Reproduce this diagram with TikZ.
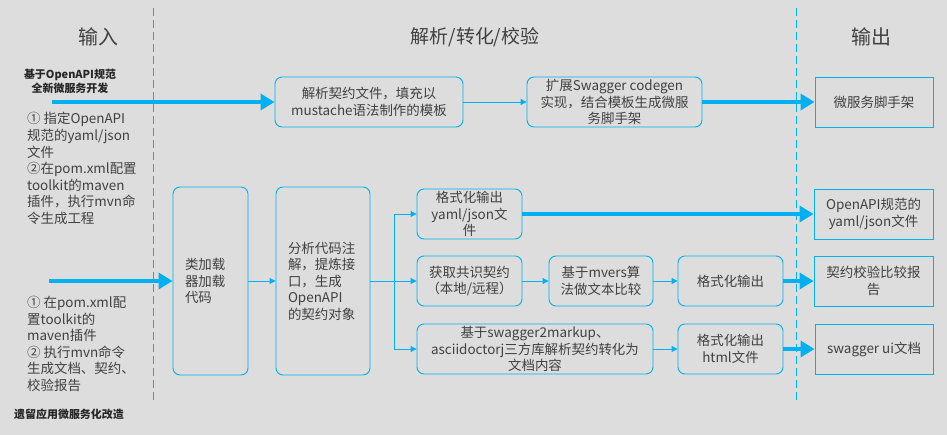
\documentclass[tikz,border=0pt]{standalone}
\usepackage{fontspec}
\setmainfont{Noto Sans CJK SC}
\usetikzlibrary{arrows.meta}
\begin{document}
\begin{tikzpicture}[x=1bp,y=-1bp,font=\fontsize{13.5}{16.6}\selectfont,
  rbox/.style={draw=hblue,rounded corners=7bp,line width=0.9bp,align=center,
    inner sep=0pt,text=htext,minimum height=50bp},
  obox/.style={draw=hblue,line width=0.9bp,align=center,inner sep=0pt,
    text=htext,minimum height=50bp},
  thin link/.style={hblue,line width=0.9bp,-{Triangle[length=6bp,width=6bp]}},
  thick link/.style={hblue,line width=4.5bp,-{Triangle[length=14bp,width=16bp]}},
  head/.style={text=htext,font=\fontsize{20}{24}\selectfont},
  tag/.style={text=black!85,align=center,font=\bfseries\fontsize{11}{14}\selectfont},
  steps/.style={anchor=west,align=left,inner sep=0pt,text=htext}]
  \definecolor{hbg}{HTML}{DDDDDD}
  \definecolor{hblue}{HTML}{00B0F0}
  \definecolor{htext}{HTML}{404040}
  \fill[hbg] (0,0) rectangle (947,435);
  \path[use as bounding box] (0,0) rectangle (947,435);
  % lane separators
  \foreach \x in {153,796}
    \draw[hblue,line width=0.9bp,dash pattern=on 8bp off 4bp] (\x,8) -- (\x,400);
  \node[head] (hin) at (98,37) {输入};
  \node[head,font=\fontsize{19}{23}\selectfont] (hmid) at (475,37) {解析/转化/校验};
  \node[head] (hout) at (871,37) {输出};
  % input side
  \node[tag] (newtag) at (70,81) {基于OpenAPI规范\\全新微服务开发};
  \node[steps] (newsteps) at (27,168.5)
    {① 指定OpenAPI\\规范的yaml/json\\文件\\②在pom.xml配置\\toolkit的maven\\插件，执行mvn命\\令生成工程};
  \node[steps] (oldsteps) at (27,344)
    {① 在pom.xml配\\置toolkit的\\maven插件\\② 执行mvn命令\\生成文档、契约、\\校验报告};
  \node[tag] (oldtag) at (69,414) {遗留应用微服务化改造};
  \coordinate (newin) at (52,102);
  \coordinate (oldin) at (49,281);
  % upper row
  \node[rbox,minimum width=188bp] (parse) at (369,102)
    {解析契约文件，填充以\\mustache语法制作的模板};
  \node[rbox,minimum width=175bp] (codegen) at (614.5,102)
    {扩展Swagger codegen\\实现，结合模板生成微服\\务脚手架};
  \node[obox,minimum width=118bp] (scaffold) at (874,102) {微服务脚手架};
  % lower rows
  \node[rbox,minimum width=75bp,minimum height=188bp,text width=51bp,
    inner xsep=12bp,align=left] (loader) at (210.5,281) {类加载\\器加载\\代码};
  \node[rbox,minimum width=94bp,minimum height=188bp,text width=70bp,
    inner xsep=12bp,align=left] (analyze) at (323,281)
    {分析代码注\\解，提炼接\\口，生成\\OpenAPI\\的契约对象};
  \coordinate (fork) at (394,281);
  \node[rbox,minimum width=105bp] (fmtyaml) at (469.5,214) {格式化输出\\yaml/json文\\件};
  \node[rbox,minimum width=105bp] (fetch) at (469.5,281) {获取共识契约\\（本地/远程）};
  \node[rbox,minimum width=236bp] (markup) at (535,349)
    {基于swagger2markup、\\asciidoctorj三方库解析契约转化为\\文档内容};
  \node[rbox,minimum width=104bp] (mvers) at (601,281) {基于mvers算\\法做文本比较};
  \node[rbox,minimum width=105bp] (fmtout) at (730.5,281) {格式化输出};
  \node[rbox,minimum width=105bp] (fmthtml) at (730.5,349) {格式化输出\\html文件};
  \node[obox,minimum width=119bp] (outyaml) at (873.5,214) {OpenAPI规范的\\yaml/json文件};
  \node[obox,minimum width=119bp] (outreport) at (873.5,281) {契约校验比较报\\告};
  \node[obox,minimum width=118bp] (outui) at (874,349) {swagger ui文档};
  % connectors
  \draw[thick link] (newin) -- (parse.west);
  \draw[thin link] (parse) -- (codegen);
  \draw[thick link] (codegen) -- (scaffold);
  \draw[thick link] (oldin) -- (loader.west);
  \draw[thin link] (loader) -- (analyze);
  \draw[hblue,line width=0.9bp] (analyze.east) -- (fork);
  \draw[thin link] (fork) -- (fetch);
  \draw[thin link] (fork) |- (fmtyaml.west);
  \draw[thin link] (fork) |- (markup.west);
  \draw[thick link] (fmtyaml) -- (outyaml);
  \draw[thin link] (fetch) -- (mvers);
  \draw[thin link] (mvers) -- (fmtout);
  \draw[thick link] (fmtout) -- (outreport);
  \draw[thin link] (markup) -- (fmthtml);
  \draw[thick link] (fmthtml) -- (outui);
\end{tikzpicture}
\end{document}
